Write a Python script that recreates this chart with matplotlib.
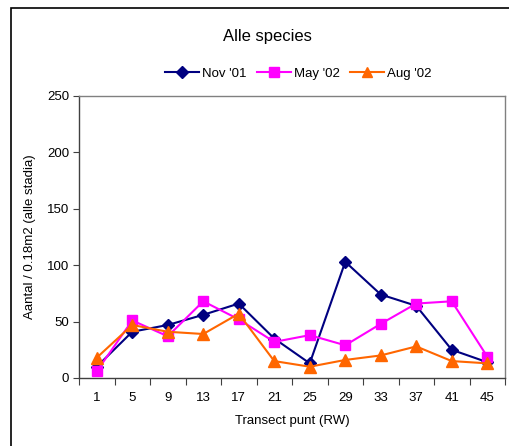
import matplotlib
matplotlib.use("Agg")
import matplotlib.pyplot as plt
from matplotlib.patches import Rectangle

plt.rcParams['font.family'] = ['Liberation Sans', 'DejaVu Sans']

# Transect points (category axis)
punten = ["1", "5", "9", "13", "17", "21", "25", "29", "33", "37", "41", "45"]

# Counts per 0.18 m2 per sampling campaign
nov_01 = [10, 41, 47, 56, 66, 35, 13, 103, 74, 64, 25, 14]
may_02 = [6, 51, 37, 68, 52, 32, 38, 29, 48, 66, 68, 19]
aug_02 = [18, 47, 41, 39, 57, 15, 10, 16, 20, 28, 15, 13]

yticks = [0, 50, 100, 150, 200, 250]

W, H = 509, 446
fig = plt.figure(figsize=(W / 100, H / 100), dpi=100)

# Outer chart frame
fig.patches.append(Rectangle((11 / W, -0.1), 1.2, 1 - 8 / H + 0.1,
                             transform=fig.transFigure, fill=False,
                             edgecolor="black", linewidth=1.2))

ax = fig.add_axes([79 / W, 1 - 378 / H, (505 - 79) / W, (378 - 96) / H])

x = list(range(len(punten)))
ax.plot(x, nov_01, color="#000080", marker="D", markersize=6.5,
        linewidth=1.5, label="Nov '01")
ax.plot(x, may_02, color="#FF00FF", marker="s", markersize=7.5,
        linewidth=1.5, label="May '02")
ax.plot(x, aug_02, color="#FF6600", marker="^", markersize=8,
        linewidth=1.5, label="Aug '02")

ax.set_xlim(-0.5, len(punten) - 0.5)
ax.set_ylim(0, 250)
ax.set_yticks(yticks)
ax.set_yticklabels([str(v) for v in yticks], fontsize=9.5)

# Category labels at centres, tick marks at category boundaries
ax.set_xticks(x)
ax.set_xticklabels(punten, fontsize=9.5)
ax.tick_params(axis="x", length=0, pad=10)
ax.set_xticks([i - 0.5 for i in range(len(punten) + 1)], minor=True)
ax.tick_params(axis="x", which="minor", length=5, width=0.8, color="#404040")
ax.tick_params(axis="y", length=4, width=0.8, color="#404040", pad=3)

for side in ("top", "right"):
    ax.spines[side].set_color("#808080")
    ax.spines[side].set_linewidth(1.0)
for side in ("left", "bottom"):
    ax.spines[side].set_color("#404040")
    ax.spines[side].set_linewidth(1.0)

ax.set_xlabel("Transect punt (RW)", fontsize=9.5, labelpad=8)
ax.set_ylabel("Aantal / 0.18m2 (alle stadia)", fontsize=9.5, labelpad=8)

fig.text(267 / W, 1 - 36 / H, "Alle species", fontsize=12,
         ha="center", va="center")

fig.legend(loc="center", bbox_to_anchor=(298 / W, 1 - 74 / H), ncol=3,
           frameon=False, fontsize=9.5, handlelength=2.6, handletextpad=0.2,
           columnspacing=0.8, borderaxespad=0, markerscale=0.9)

fig.savefig("out.png", dpi=100)
